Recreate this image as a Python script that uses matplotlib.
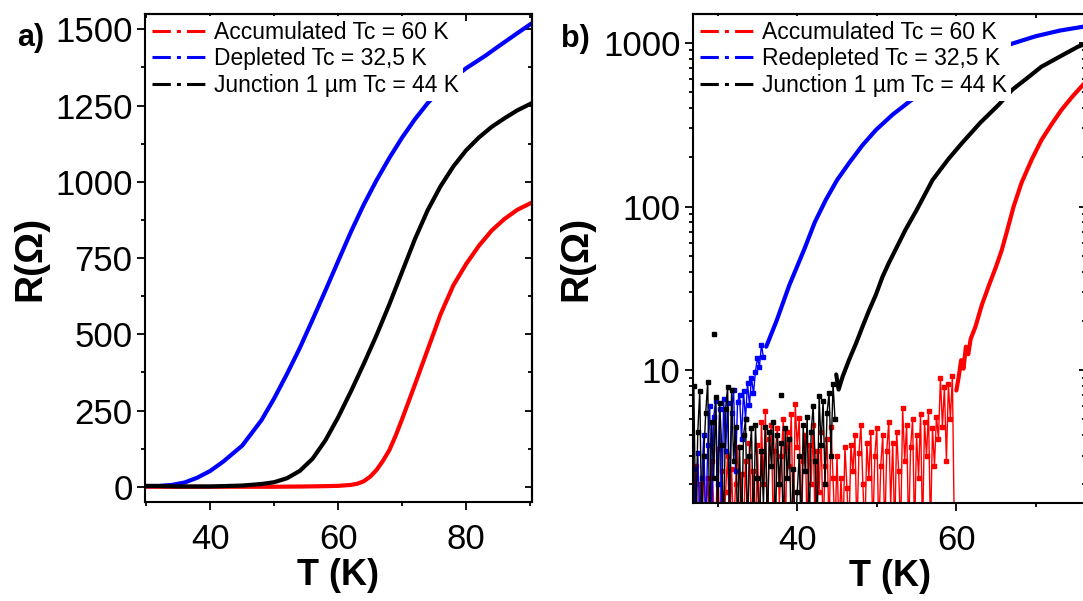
import numpy as np
import matplotlib.pyplot as plt
from matplotlib.lines import Line2D
from matplotlib.ticker import MultipleLocator, LogLocator, NullFormatter, FormatStrFormatter

plt.rcParams['font.family'] = ['Liberation Sans', 'DejaVu Sans']

# ---- panel a) linear scale ----
acc_T_a = [30, 40, 50, 55, 58, 60, 62, 63, 64, 65, 66, 67, 68, 69, 70, 72, 74, 76, 78, 80, 82, 84, 86, 88, 90.3]
acc_R_a = [0, 0, 0, 1, 2, 3, 6, 10, 18, 33, 55, 85, 120, 168, 222, 335, 450, 565, 660, 730, 790, 840, 878, 908, 932]

dep_T_a = [30, 32, 34, 36, 38, 40, 42, 45, 48, 50, 52, 54, 56, 58, 60, 62, 64, 66, 68, 70, 72, 74, 76, 78, 80, 83, 85, 88, 90.3]
dep_R_a = [2, 3, 6, 14, 30, 52, 82, 135, 218, 290, 370, 455, 548, 643, 740, 836, 925, 1005, 1078, 1145, 1205, 1258, 1303, 1340, 1372, 1413, 1443, 1487, 1520]

jun_T_a = [30, 35, 40, 45, 48, 50, 52, 54, 56, 58, 60, 62, 64, 66, 68, 70, 72, 74, 76, 78, 80, 82, 84, 86, 88, 90.3]
jun_R_a = [3, 1, 1, 4, 9, 15, 28, 52, 92, 152, 228, 313, 403, 497, 598, 705, 812, 907, 985, 1050, 1103, 1145, 1180, 1208, 1234, 1258]

# ---- panel b) log scale ----
# noisy low-temperature part (step 0.25 K), values below the axis read as 1.0
acc_T_noise = list(np.arange(27.0, 60.0, 0.25))
acc_R_noise = [1.0, 2.6, 1.0, 2.0, 1.0, 3.0, 1.2, 2.2, 1.0, 2.8, 1.5, 1.0, 3.3, 1.0, 2.4, 1.0,
               1.8, 3.0, 1.0, 2.5, 1.0, 2.0, 3.4, 1.0, 2.3, 1.0, 2.8, 1.2, 3.6, 1.0, 2.4, 1.0,
               3.5, 1.0, 4.8, 2.0, 5.6, 1.0, 3.8, 4.6, 1.0, 3.2, 4.4, 1.5, 3.0, 5.0, 1.0, 4.2,
               2.6, 5.4, 1.0, 6.2, 3.4, 5.1, 1.0, 2.8, 4.0, 1.0, 3.5, 2.0, 4.6, 1.0, 3.2, 1.8,
               4.2, 1.0, 2.6, 3.8, 1.0, 4.5, 2.2, 1.0,
               3.0, 1.0, 2.2, 1.0, 3.4, 1.9, 1.0, 3.5, 2.4, 4.0, 1.0, 3.1, 4.6, 2.0, 1.0, 3.6,
               2.2, 4.2, 1.0, 3.0, 4.4, 1.0, 2.6, 4.0, 1.0, 3.2, 4.8, 1.5, 3.6, 1.0, 4.2, 2.4,
               1.0, 5.9, 2.8, 4.6, 1.0, 3.4, 5.0, 1.0, 4.0, 2.2, 5.4, 1.0, 4.8, 3.0, 5.6, 1.0,
               4.4, 2.6, 5.2, 3.8,
               8.9, 4.5, 7.9, 2.8, 8.2, 5.0, 9.2, 1.0]
acc_T_b = [60.0, 60.3, 60.6, 60.9, 61.2, 61.5, 61.8, 62.4, 63.2, 64.1, 65.0, 65.7, 66.2, 67.2,
           68.2, 69.5, 70.7, 72.0, 73.2, 74.5, 75.7, 76.5]
acc_R_b = [7.5, 9.1, 11.5, 10.2, 13.9, 12.5, 15.5, 18.4, 25, 33, 43, 54, 66, 100,
           140, 195, 255, 320, 389, 465, 540, 594]

dep_T_noise = list(np.arange(27.0, 36.0, 0.25))
dep_R_noise = [2.5, 1.0, 3.1, 1.2, 2.2, 4.0, 1.0, 3.5, 6.0, 1.0, 5.2, 6.5, 2.0, 5.8, 1.1, 6.7,
               3.2, 6.3, 1.4, 5.5, 7.6, 2.4, 6.4, 7.0, 3.8, 7.4, 5.0, 8.3, 6.1, 9.0, 7.2, 9.8,
               11.8, 10.5, 14.2, 12.0]
dep_T_b = [36.1, 37.4, 39.0, 40.9, 42.2, 43.6, 45.0, 46.5, 48.2, 49.9, 52.0, 54.1, 57.0, 60.0,
           63.0, 67.0, 70.0, 73.0, 76.5]
dep_R_b = [13.9, 20, 33, 55, 80, 110, 145, 184, 237, 294, 365, 438, 560, 690,
           820, 990, 1100, 1190, 1270]

jun_T_noise = list(np.arange(27.0, 45.0, 0.25))
jun_R_noise = [8.0, 1.0, 4.2, 7.5, 1.0, 3.0, 5.5, 8.5, 1.0, 4.8, 2.2, 6.8, 1.0, 6.3, 3.5, 1.0,
               5.8, 7.9, 1.2, 7.6, 2.8, 4.5, 1.0, 3.4, 1.0, 4.0, 5.0, 1.0, 3.0, 4.4, 1.0, 4.6,
               2.2, 1.0, 3.2, 1.5, 4.5, 1.0, 4.2, 2.6, 4.8, 1.0, 4.0, 2.0, 3.6, 1.0, 4.4, 2.2,
               3.8, 1.0, 2.5, 1.0, 1.8, 3.0, 1.0, 4.6, 2.4, 5.2, 1.0, 4.2, 6.0, 2.8, 1.0, 6.9,
               3.5, 6.5, 2.0, 5.5, 7.2, 3.0, 8.2, 5.0]
jun_T_out = [29.6, 37.9]
jun_R_out = [16.6, 7.0]
jun_T_b = [44.9, 45.2, 45.7, 46.5, 47.4, 48.2, 49.0, 49.9, 50.7, 51.5, 52.4, 53.6, 55.0, 57.0,
           59.0, 60.7, 63.0, 65.3, 67.0, 69.0, 70.7, 73.0, 75.3, 76.5]
jun_R_b = [9.4, 7.6, 9.1, 11.5, 14.6, 18.4, 23, 29, 37, 45, 55, 72, 95, 145,
           195, 244, 325, 418, 516, 615, 716, 825, 949, 1000]

labels_a = ['Accumulated Tc = 60 K', 'Depleted Tc = 32,5 K', 'Junction 1 µm Tc = 44 K']
labels_b = ['Accumulated Tc = 60 K', 'Redepleted Tc = 32,5 K', 'Junction 1 µm Tc = 44 K']
colors = ['#ff0000', '#0000ff', '#000000']

TICK = 25
LAB = 26


def style_axes(ax, log=False):
    for s in ax.spines.values():
        s.set_linewidth(1.5)
    ax.tick_params(which='major', direction='out', length=6, width=1.3, labelsize=TICK, pad=3)
    ax.tick_params(which='minor', direction='out', length=3, width=1.3)
    ax.tick_params(axis='x', which='major', pad=9)
    top = ax.secondary_xaxis('top')
    right = ax.secondary_yaxis('right')
    top.xaxis.set_major_locator(MultipleLocator(20))
    top.xaxis.set_minor_locator(MultipleLocator(10))
    if log:
        right.yaxis.set_major_locator(LogLocator(base=10))
        right.yaxis.set_minor_locator(LogLocator(base=10, subs=np.arange(2, 10)))
    else:
        right.yaxis.set_major_locator(MultipleLocator(250))
        right.yaxis.set_minor_locator(MultipleLocator(125))
    for sec in (top, right):
        for s in sec.spines.values():
            s.set_linewidth(1.5)
        sec.tick_params(which='major', direction='in', length=5, width=1.3)
        sec.tick_params(which='minor', direction='in', length=3, width=1.3)
        sec.tick_params(labeltop=False, labelright=False, labelbottom=False, labelleft=False)


def legend_handles():
    return [Line2D([], [], color=c, lw=2.2, ls=(0, (6, 2, 1.3, 2))) for c in colors]


fig = plt.figure(figsize=(10.83, 6.01), dpi=100)
thick = dict(lw=3, solid_joinstyle='round', solid_capstyle='round')

# panel a
ax1 = fig.add_axes([0.1339, 0.1647, 0.3573, 0.812])
ax1.plot(acc_T_a, acc_R_a, color=colors[0], **thick)
ax1.plot(dep_T_a, dep_R_a, color=colors[1], **thick)
ax1.plot(jun_T_a, jun_R_a, color=colors[2], **thick)
ax1.set_xlim(29.8, 90.3)
ax1.set_ylim(-50, 1550)
ax1.xaxis.set_major_locator(MultipleLocator(20))
ax1.xaxis.set_minor_locator(MultipleLocator(10))
ax1.yaxis.set_major_locator(MultipleLocator(250))
ax1.yaxis.set_minor_locator(MultipleLocator(125))
style_axes(ax1)
ax1.set_xlabel('T (K)', fontsize=LAB, fontweight='bold')
ax1.set_ylabel('R(Ω)', fontsize=28, fontweight='bold')
ax1.xaxis.set_label_coords(0.5, -0.115)
ax1.yaxis.set_label_coords(-0.25, 0.5)
ax1.legend(legend_handles(), labels_a, loc='upper left', fontsize=16.5, frameon=True,
           framealpha=1, facecolor='white', edgecolor='none', fancybox=False,
           handlelength=2.4, handletextpad=0.3, labelspacing=0.15, borderpad=0.2,
           borderaxespad=0.1)

# panel b
ax2 = fig.add_axes([0.6399, 0.1631, 0.3629, 0.8136])
ax2.set_yscale('log')
mk = dict(marker='s', ms=2.6, lw=1.0)
ax2.plot(acc_T_noise, acc_R_noise, color=colors[0], **mk)
ax2.plot(acc_T_b, acc_R_b, color=colors[0], **thick)
ax2.plot(dep_T_noise, dep_R_noise, color=colors[1], **mk)
ax2.plot(dep_T_b, dep_R_b, color=colors[1], **thick)
ax2.plot(jun_T_noise, jun_R_noise, color=colors[2], **mk)
ax2.plot(jun_T_out, jun_R_out, color=colors[2], ls='none', marker='s', ms=2.6)
ax2.plot(jun_T_b, jun_R_b, color=colors[2], **thick)
ax2.set_xlim(26.9, 76.3)
ax2.set_ylim(1.54, 1503)
ax2.xaxis.set_major_locator(MultipleLocator(20))
ax2.xaxis.set_minor_locator(MultipleLocator(10))
ax2.yaxis.set_major_locator(LogLocator(base=10))
ax2.yaxis.set_minor_locator(LogLocator(base=10, subs=np.arange(2, 10)))
ax2.yaxis.set_major_formatter(FormatStrFormatter('%g'))
ax2.yaxis.set_minor_formatter(NullFormatter())
style_axes(ax2, log=True)
ax2.set_xlabel('T (K)', fontsize=LAB, fontweight='bold')
ax2.set_ylabel('R(Ω)', fontsize=28, fontweight='bold')
ax2.xaxis.set_label_coords(0.5, -0.115)
ax2.yaxis.set_label_coords(-0.25, 0.5)
ax2.legend(legend_handles(), labels_b, loc='upper left', fontsize=16.5, frameon=True,
           framealpha=1, facecolor='white', edgecolor='none', fancybox=False,
           handlelength=2.4, handletextpad=0.3, labelspacing=0.15, borderpad=0.2,
           borderaxespad=0.1)

fig.text(17 / 1083, 1 - 46 / 601, 'a)', fontsize=22, fontweight='bold', ha='left', va='baseline')
fig.text(561 / 1083, 1 - 47 / 601, 'b)', fontsize=22, fontweight='bold', ha='left', va='baseline')

fig.savefig('out.png', dpi=100)
